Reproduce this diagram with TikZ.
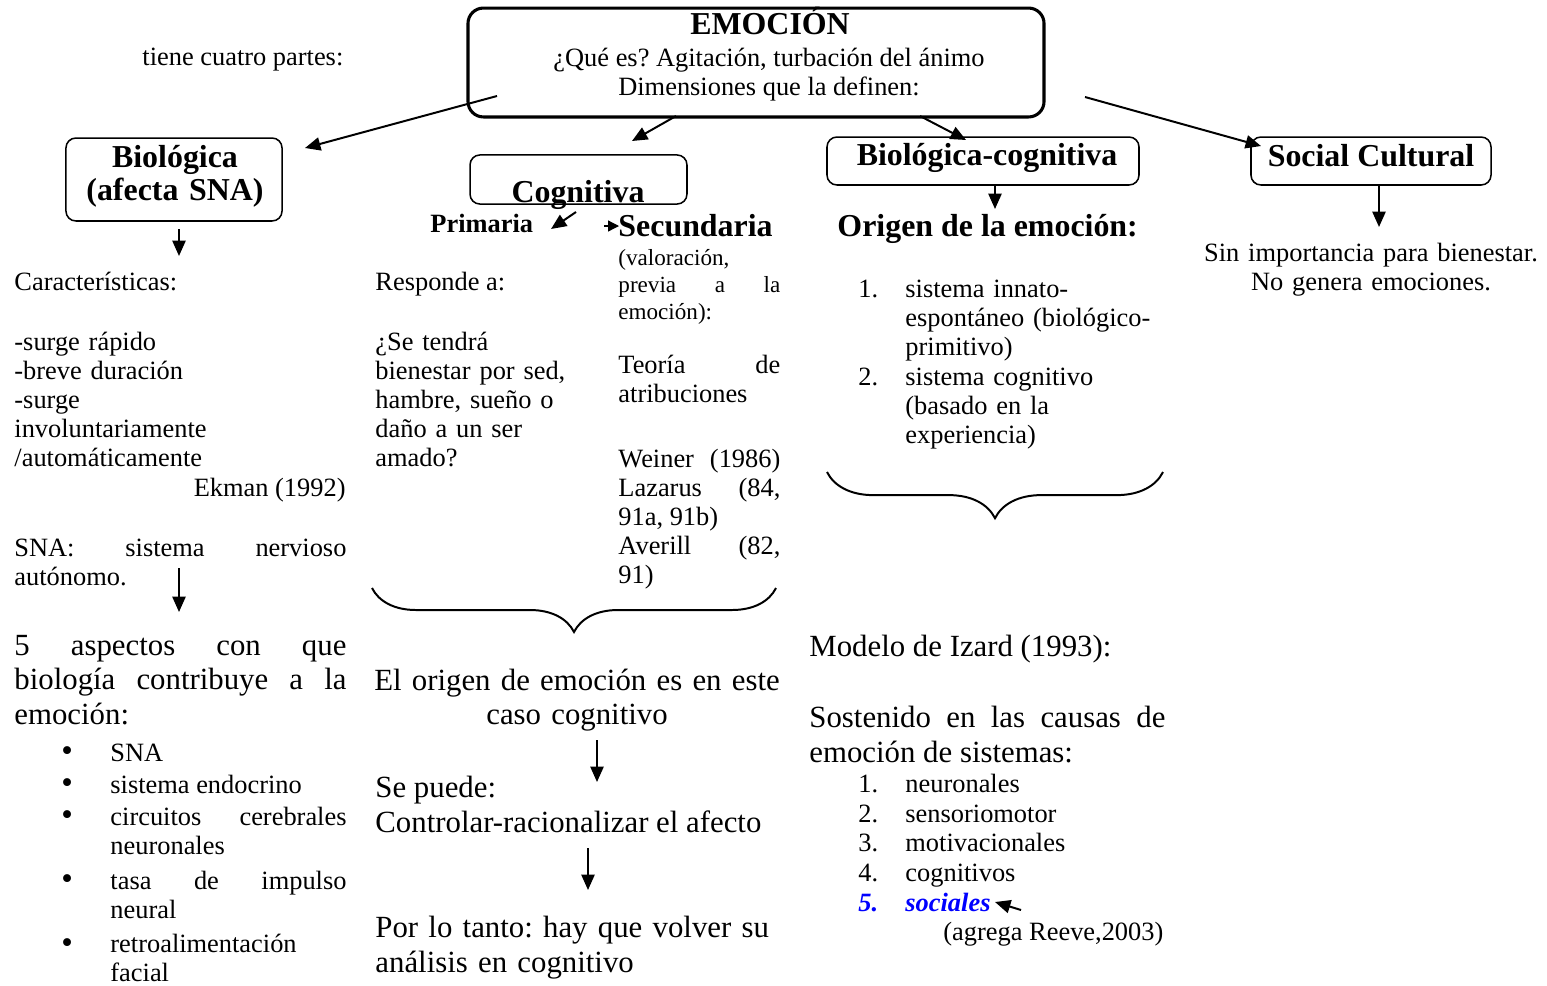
\documentclass[tikz,border=0pt]{standalone}
\usepackage{fontspec}
\setmainfont{Liberation Serif}
\usetikzlibrary{arrows.meta,decorations.pathreplacing}
\hyphenpenalty=10000
\tolerance=10000
\frenchspacing
\tikzset{
  txt/.style={inner sep=0pt, anchor=base west, font=\fontsize{12}{13.2}\selectfont},
  big/.style={inner sep=0pt, anchor=base west, font=\fontsize{14}{15.9}\selectfont},
  small/.style={inner sep=0pt, anchor=base west, font=\fontsize{10.5}{12.3}\selectfont},
  head/.style={inner sep=0pt, anchor=base, font=\fontsize{14.5}{15}\selectfont\bfseries},
  box/.style={draw, rounded corners=4.5pt, line width=0.7pt, inner sep=0pt},
  bul/.style={inner sep=0pt, anchor=base west, font=\fontsize{15}{15}\selectfont},
  arr/.style={-{Triangle[length=7pt,width=6pt]}, line width=0.9pt},
  brc/.style={decorate, decoration={brace,mirror,amplitude=20pt}, line width=0.9pt},
}
\begin{document}
\begin{tikzpicture}[x=0.4545pt,y=-0.4545pt]
\useasboundingbox (0,0) rectangle (1547,985);

% titulo
\node[box, line width=1.4pt, rounded corners=7pt, minimum width=261.8pt, minimum height=49.5pt] (emo) at (756,62.5) {};
\node[head] (emotit) at (770,34) {EMOCIÓN};
\node[txt, anchor=base] (que) at (769,66) {¿Qué es? Agitación, turbación del ánimo};
\node[txt, anchor=base] (dim) at (769,95) {Dimensiones que la definen:};
\node[txt] (partes) at (142,65) {tiene cuatro partes:};

% las cuatro dimensiones
\node[box, minimum width=98.2pt, minimum height=37.7pt] (bio) at (174,179.5) {};
\node[head, text width=98pt, align=center] (biotxt) at (175,167) {Biológica\\(afecta SNA)};
\node[box, minimum width=98.6pt, minimum height=22.3pt] (cog) at (578.5,179.5) {};
\node[head] (cogtxt) at (578,202) {Cognitiva};
\node[box, minimum width=141.8pt, minimum height=21.8pt] (biocog) at (983,161) {};
\node[head] (biocogtxt) at (987,165) {Biológica-cognitiva};
\node[box, minimum width=109.1pt, minimum height=21.8pt] (soc) at (1371,161) {};
\node[head] (soctxt) at (1371,166) {Social Cultural};

\coordinate (e1) at (497,96);   \coordinate (b1) at (305,148);
\coordinate (e2) at (676,116);  \coordinate (c1) at (632,141);
\coordinate (e3) at (920,116);  \coordinate (d1) at (966,140);
\coordinate (e4) at (1085,97);  \coordinate (s1) at (1261,146);
\draw[arr] (e1) -- (b1);
\draw[arr] (e2) -- (c1);
\draw[arr] (e3) -- (d1);
\draw[arr] (e4) -- (s1);

% columna biologica
\coordinate (b2) at (179,229);  \coordinate (b3) at (179,256);
\draw[arr] (b2) -- (b3);
\node[txt] (carac) at (14,290) {Características:};
\node[txt, text width=150.9pt, align=left] (rasgos) at (14,350) {-surge rápido\\-breve duración\\-surge\\involuntariamente\\/automáticamente};
\node[txt, anchor=base east] (ekman) at (346,496) {Ekman (1992)};
\node[txt, text width=150.9pt, align=justify] (sna) at (14,556) {SNA: sistema nervioso\linebreak autónomo.};
\coordinate (b4) at (179,568);  \coordinate (b5) at (179,612);
\draw[arr] (b4) -- (b5);
\node[big, text width=150.9pt, align=justify] (aspectos) at (14,655) {5 aspectos con que\linebreak biología contribuye a la\linebreak emoción:};
\node[bul] (p1) at (61,761) {\textbullet};
\node[bul] (p2) at (61,793) {\textbullet};
\node[bul] (p3) at (61,825) {\textbullet};
\node[bul] (p4) at (61,889) {\textbullet};
\node[bul] (p5) at (61,953) {\textbullet};
\node[txt] (i1) at (110,761) {SNA};
\node[txt] (i2) at (110,793) {sistema endocrino};
\node[txt, text width=107.3pt, align=justify] (i3) at (110,825) {circuitos cerebrales\linebreak neuronales};
\node[txt, text width=107.3pt, align=justify] (i4) at (110,889) {tasa de impulso\linebreak neural};
\node[txt, text width=107.3pt, align=left] (i5) at (110,952) {retroalimentación\\facial};

% columna cognitiva
\node[txt, font=\fontsize{12}{13.2}\selectfont\bfseries] (prim) at (430,232) {Primaria};
\node[head, anchor=base west] (sec) at (618,236) {Secundaria};
\coordinate (c2) at (576,212);  \coordinate (c3) at (551,229);
\coordinate (c4) at (604,226);  \coordinate (c5) at (619,226);
\draw[arr] (c2) -- (c3);
\draw[-{Triangle[length=5pt,width=5pt]}, line width=0.6pt] (c4) -- (c5);
\node[small, text width=73.6pt, align=justify] (valor) at (618,265) {(valoración,\\previa a la\linebreak emoción):};
\node[txt] (responde) at (375,290) {Responde a:};
\node[txt, text width=90pt, align=left] (pregunta) at (375,350) {¿Se tendrá\\bienestar por sed,\\hambre, sueño o\\daño a un ser\\amado?};
\node[txt, text width=73.6pt, align=justify] (teoria) at (618,373) {Teoría de\linebreak atribuciones};
\node[txt, text width=73.6pt, align=justify] (autores) at (618,467) {Weiner (1986)\linebreak Lazarus (84,\linebreak 91a, 91b)\\Averill (82,\linebreak 91)};
\draw[brc] (372,588) -- (776,588);
\node[big, text width=195pt, align=center, anchor=base] (origen) at (577,690) {El origen de emoción es en este\\caso cognitivo};
\coordinate (c6) at (597,740);  \coordinate (c7) at (597,782);
\draw[arr] (c6) -- (c7);
\node[big] (sepuede) at (375,797) {Se puede:};
\node[big] (controlar) at (375,832) {Controlar-racionalizar el afecto};
\coordinate (c8) at (588,848);  \coordinate (c9) at (588,890);
\draw[arr] (c8) -- (c9);
\node[big, text width=190pt, align=left] (portanto) at (375,937) {Por lo tanto: hay que volver su\\análisis en cognitivo};

% columna biologica-cognitiva
\coordinate (d2) at (995,185);  \coordinate (d3) at (995,209);
\draw[arr] (d2) -- (d3);
\node[head, anchor=base west] (origenbc) at (837,236) {Origen de la emoción:};
\node[txt] (n1) at (858,297) {1.};
\node[txt, text width=118pt, align=left] (t1) at (905,297) {sistema innato-\\espontáneo (biológico-\\primitivo)};
\node[txt] (n2) at (858,385) {2.};
\node[txt, text width=118pt, align=left] (t2) at (905,385) {sistema cognitivo\\(basado en la\\experiencia)};
\draw[brc, decoration={amplitude=21pt}] (827,472) -- (1163,472);
\node[big] (izard) at (809,656) {Modelo de Izard (1993):};
\node[big, text width=161.8pt, align=justify] (sostenido) at (809,727) {Sostenido en las causas de\linebreak emoción de sistemas:};
\node[txt] (m1) at (858,792) {1.};
\node[txt] (m2) at (858,822) {2.};
\node[txt] (m3) at (858,851) {3.};
\node[txt] (m4) at (858,881) {4.};
\node[txt, text=blue, font=\fontsize{12}{13.2}\selectfont\bfseries\itshape] (m5) at (858,911) {5.};
\node[txt] (s1n) at (905,792) {neuronales};
\node[txt] (s2n) at (905,822) {sensoriomotor};
\node[txt] (s3n) at (905,851) {motivacionales};
\node[txt] (s4n) at (905,881) {cognitivos};
\node[txt, text=blue, font=\fontsize{12}{13.2}\selectfont\bfseries\itshape] (s5n) at (905,911) {sociales};
\node[txt] (reeve) at (943,940) {(agrega Reeve,2003)};
\coordinate (d4) at (1021,910);  \coordinate (d5) at (995,902);
\draw[arr] (d4) -- (d5);

% columna social cultural
\coordinate (s2) at (1379,185);  \coordinate (s3) at (1379,227);
\draw[arr] (s2) -- (s3);
\node[txt, text width=170pt, align=center, anchor=base] (sin) at (1371,261) {Sin importancia para bienestar.\\No genera emociones.};
\end{tikzpicture}
\end{document}
